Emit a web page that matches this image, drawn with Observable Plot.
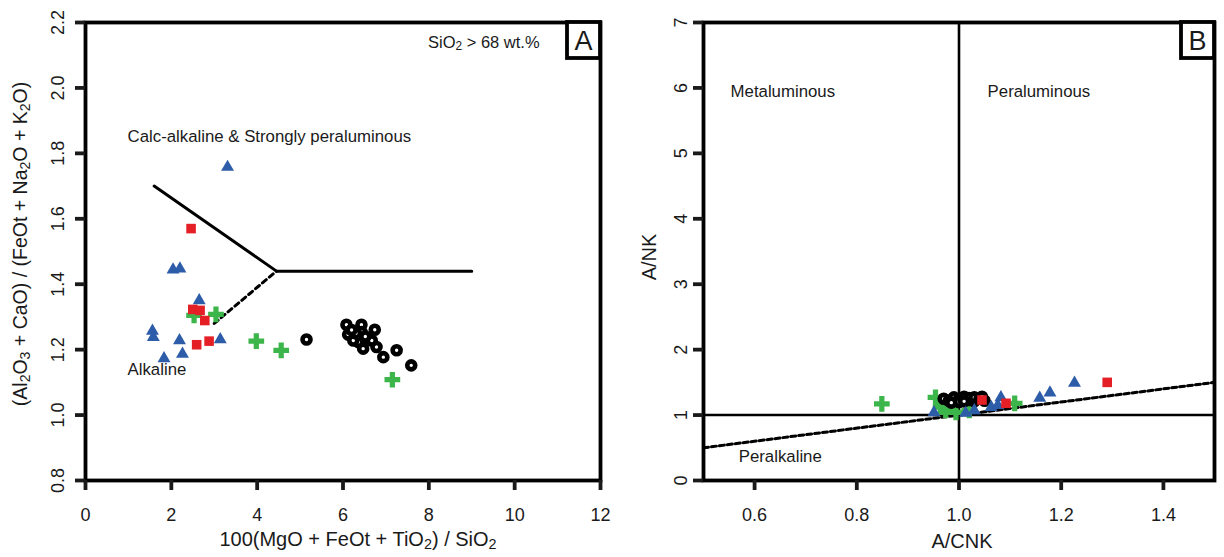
<!DOCTYPE html>
<html><head><meta charset="utf-8">
<script src="https://cdn.jsdelivr.net/npm/d3@7"></script>
<script src="https://cdn.jsdelivr.net/npm/@observablehq/plot@0.6"></script>
<style>
body{margin:0;background:#fff;font-family:"Liberation Sans",Arial,sans-serif;}
#wrap{position:relative;width:1224px;height:557px;overflow:hidden;}
#a,#b{position:absolute;top:0;}
#a{left:0}#b{left:612px}
</style></head><body><div id="wrap"><div id="a"></div><div id="b"></div></div>
<script>
// ---------- Panel A data ----------
const aXTicks = [0, 2, 4, 6, 8, 10, 12];
const aYTicks = [0.8, 1.0, 1.2, 1.4, 1.6, 1.8, 2.0, 2.2];
const aTriX = [3.31, 2.04, 2.20, 2.65, 1.56, 1.58, 2.19, 3.14, 2.26, 1.83];
const aTriY = [1.758, 1.444, 1.447, 1.35, 1.257, 1.238, 1.228, 1.231, 1.187, 1.173];
const aSqX = [2.46, 2.50, 2.67, 2.78, 2.59, 2.88];
const aSqY = [1.57, 1.323, 1.32, 1.289, 1.215, 1.226];
const aPlusX = [2.53, 3.04, 3.98, 4.56, 7.15];
const aPlusY = [1.305, 1.308, 1.226, 1.198, 1.108];
const aCircX = [5.15, 6.08, 6.43, 6.74, 6.12, 6.28, 6.43, 6.59, 6.36, 6.47, 6.78, 6.94, 7.25, 7.59, 6.67, 6.24, 6.30, 6.52, 6.20];
const aCircY = [1.231, 1.276, 1.276, 1.261, 1.246, 1.238, 1.254, 1.233, 1.223, 1.203, 1.208, 1.177, 1.198, 1.152, 1.228, 1.228, 1.25, 1.24, 1.26];
const aSolidX = [1.6, 4.45, 9.0];
const aSolidY = [1.70, 1.44, 1.44];
const aDashX = [3.0, 4.45];
const aDashY = [1.28, 1.44];

// ---------- Panel B data ----------
const bXTicks = [0.6, 0.8, 1.0, 1.2, 1.4];
const bYTicks = [0, 1, 2, 3, 4, 5, 6, 7];
const bTriX = [0.951, 1.013, 1.03, 1.063, 1.082, 1.076, 1.158, 1.178, 1.226];
const bTriY = [1.04, 1.03, 1.07, 1.12, 1.27, 1.15, 1.26, 1.34, 1.49];
const bSqX = [1.045, 1.092, 1.29];
const bSqY = [1.23, 1.18, 1.50];
const bPlusX = [0.849, 0.954, 0.964, 0.974, 0.994, 1.020, 1.109];
const bPlusY = [1.171, 1.272, 1.12, 1.07, 1.04, 1.07, 1.18];
const bCircX = [0.97, 0.98, 0.99, 1.0, 1.0, 1.01, 1.02, 1.02, 1.03, 1.03, 1.04, 1.05, 0.985, 1.01, 1.045];
const bCircY = [1.25, 1.22, 1.27, 1.24, 1.2, 1.28, 1.23, 1.26, 1.21, 1.27, 1.25, 1.22, 1.19, 1.21, 1.28];
const bRefX = [0.5, 1.5];
const bRefY = [0.5, 1.5];

const BLUE = "#2d5ca8", RED = "#e51f26", GREEN = "#3cb64a";
const FONT = "Liberation Sans, Arial, sans-serif";

const pts = (xs, ys) => xs.map((x, i) => ({x, y: ys[i]}));

function series(xs, ys, kind) {
  const d = pts(xs, ys);
  if (kind === "tri") return Plot.dot(d, {x: "x", y: "y", symbol: "triangle", r: 4.8, fill: BLUE});
  if (kind === "sq") return Plot.dot(d, {x: "x", y: "y", symbol: "square", r: 5.4, fill: RED});
  if (kind === "plus") return Plot.dot(d, {x: "x", y: "y", symbol: "cross", r: 6.6, fill: GREEN});
  return Plot.dot(d, {x: "x", y: "y", r: 4.0, fill: "white", stroke: "black", strokeWidth: 4.6});
}

const common = {
  width: 612, height: 557, marginTop: 22, marginBottom: 77,
  style: {fontFamily: FONT, fontSize: "17px", color: "#1a1a1a", background: "transparent"}
};

const plotA = Plot.plot({
  ...common, marginLeft: 85, marginRight: 12,
  x: {domain: [0, 12]}, y: {domain: [0.8, 2.2]},
  marks: [
    Plot.line(pts(aSolidX, aSolidY), {x: "x", y: "y", stroke: "black", strokeWidth: 3}),
    Plot.line(pts(aDashX, aDashY), {x: "x", y: "y", stroke: "black", strokeWidth: 3, strokeDasharray: "5,4"}),
    Plot.text(["Calc-alkaline & Strongly peraluminous"], {x: 0.98, y: 1.85, text: d => d, textAnchor: "start", fontSize: 16.8}),
    Plot.text(["Alkaline"], {x: 0.98, y: 1.14, text: d => d, textAnchor: "start", fontSize: 16.8}),
    series(aPlusX, aPlusY, "plus"),
    series(aTriX, aTriY, "tri"),
    series(aSqX, aSqY, "sq"),
    series(aCircX, aCircY, "circ"),
    Plot.frame({stroke: "black", strokeWidth: 3.8}),
    Plot.axisX({ticks: aXTicks, tickSize: 10, strokeWidth: 3.8, tickPadding: 18, fontSize: 18, label: null}),
    Plot.axisY({ticks: aYTicks, tickSize: 10, strokeWidth: 3.8, tickPadding: 12, fontSize: 18, tickRotate: -90, tickFormat: d3.format(".1f"), label: null})
  ]
});

const plotB = Plot.plot({
  ...common, marginLeft: 91, marginRight: 10,
  x: {domain: [0.5, 1.5]}, y: {domain: [0, 7]},
  marks: [
    Plot.ruleX([1], {stroke: "black", strokeWidth: 2.6}),
    Plot.ruleY([1], {stroke: "black", strokeWidth: 2.6}),
    Plot.line(pts(bRefX, bRefY), {x: "x", y: "y", stroke: "black", strokeWidth: 3, strokeDasharray: "5,3"}),
    Plot.text(["Metaluminous"], {x: 0.553, y: 5.94, text: d => d, textAnchor: "start", fontSize: 16.8}),
    Plot.text(["Peraluminous"], {x: 1.056, y: 5.94, text: d => d, textAnchor: "start", fontSize: 16.8}),
    Plot.text(["Peralkaline"], {x: 0.569, y: 0.37, text: d => d, textAnchor: "start", fontSize: 16.8}),
    series(bPlusX, bPlusY, "plus"),
    series(bCircX, bCircY, "circ"),
    series(bTriX, bTriY, "tri"),
    series(bSqX, bSqY, "sq"),
    Plot.frame({stroke: "black", strokeWidth: 3.8}),
    Plot.axisX({ticks: bXTicks, tickSize: 10, strokeWidth: 3.8, tickPadding: 18, fontSize: 18, tickFormat: d3.format(".1f"), label: null}),
    Plot.axisY({ticks: bYTicks, tickSize: 10, strokeWidth: 3.8, tickPadding: 7, fontSize: 18, tickRotate: -90, tickFormat: d3.format("d"), label: null})
  ]
});

document.getElementById("a").appendChild(plotA);
document.getElementById("b").appendChild(plotB);

// rich text helper: parts = [[text, isSub], ...]
function rich(svg, parts, x, y, size, rotate, anchor) {
  const t = d3.select(svg).append("text")
    .attr("font-family", FONT).attr("font-size", size).attr("fill", "#1a1a1a")
    .attr("text-anchor", anchor || "middle")
    .attr("transform", `translate(${x},${y})` + (rotate ? ` rotate(${rotate})` : ""));
  parts.forEach(([s, sub]) => {
    const ts = t.append("tspan").text(s);
    if (sub) ts.attr("baseline-shift", "-18%").attr("font-size", "72%");
  });
  return t;
}
function boxLabel(svg, letter, right, top) {
  const g = d3.select(svg).append("g");
  g.append("rect").attr("x", right - 33).attr("y", top).attr("width", 33).attr("height", 36)
    .attr("fill", "white").attr("stroke", "black").attr("stroke-width", 3.8);
  g.append("text").attr("x", right - 16.5).attr("y", top + 28).attr("text-anchor", "middle")
    .attr("font-family", FONT).attr("font-size", 27).attr("fill", "#1a1a1a").text(letter);
}

// Panel A labels
rich(plotA, [["(Al"], ["2", 1], ["O"], ["3", 1], [" + CaO) / (FeOt + Na"], ["2", 1], ["O + K"], ["2", 1], ["O)"]], 27, 244, 19.5, -90);
rich(plotA, [["100(MgO + FeOt + TiO"], ["2", 1], [") / SiO"], ["2", 1]], 358, 546, 20);
rich(plotA, [["SiO"], ["2", 1], [" > 68 wt.%"]], 428, 48, 16.5, 0, "start");
boxLabel(plotA, "A", 600, 22);

// Panel B labels
rich(plotB, [["A/NK"]], 44, 257, 20, -90);
rich(plotB, [["A/CNK"]], 350, 548, 20);
boxLabel(plotB, "B", 602, 22);
</script></body></html>
